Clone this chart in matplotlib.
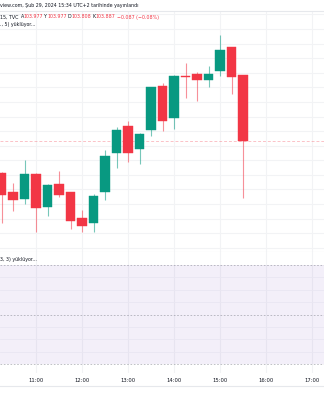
import numpy as np
import matplotlib
matplotlib.use("Agg")
import matplotlib.pyplot as plt
from matplotlib.lines import Line2D

# ---- data ----
times = [10.25 + 0.25 * i for i in range(22)]  # hours (15-min candles, 10:15 .. 15:30)
opens  = [103.843, 103.816, 103.807, 103.841, 103.796, 103.827, 103.816, 103.781, 103.774, 103.816, 103.870,
          103.907, 103.875, 103.902, 103.962, 103.918, 103.976, 103.978, 103.970, 103.982, 104.015, 103.977]
highs  = [103.844, 103.829, 103.860, 103.842, 103.827, 103.846, 103.817, 103.792, 103.814, 103.874, 103.905,
          103.914, 103.898, 103.961, 103.966, 103.977, 103.994, 103.981, 103.990, 104.032, 104.016, 103.977]
lows   = [103.774, 103.790, 103.800, 103.761, 103.784, 103.810, 103.766, 103.761, 103.761, 103.805, 103.850,
          103.857, 103.855, 103.894, 103.900, 103.903, 103.946, 103.941, 103.960, 103.976, 103.951, 103.808]
closes = [103.812, 103.805, 103.841, 103.794, 103.826, 103.813, 103.777, 103.770, 103.811, 103.866, 103.902,
          103.870, 103.896, 103.960, 103.914, 103.976, 103.974, 103.970, 103.979, 104.011, 103.974, 103.887]
hour_ticks = [11, 12, 13, 14, 15, 16, 17]
hour_labels = ["11:00", "12:00", "13:00", "14:00", "15:00", "16:00", "17:00"]
osc_levels = [70, 50, 30]

UP = "#089981"
DOWN = "#F23645"
GRID = "#F2F3F5"
TXT = "#131722"

W, H = 324, 400
fig = plt.figure(figsize=(W / 100, H / 100), dpi=100)
fig.patch.set_facecolor("white")

def fy(py):
    return 1 - py / H

xlim = (11 - 36 / 46, 11 + 288 / 46)

# main pane: pixel rows 11..252
ax = fig.add_axes([0, fy(252), 1, (252 - 11) / H])
ax.set_xlim(*xlim)
ax.set_ylim(103.7342, 104.0648)
for s in ax.spines.values():
    s.set_visible(False)
ax.spines["top"].set_visible(True)
ax.spines["bottom"].set_visible(True)
ax.spines["top"].set_color("#E6E8EC")
ax.spines["bottom"].set_color("#E0E3EB")
ax.spines["top"].set_linewidth(0.8)
ax.spines["bottom"].set_linewidth(0.8)
ax.set_xticks([]); ax.set_yticks([])
for p in np.arange(103.72, 104.08, 0.02):
    ax.axhline(p, color=GRID, lw=0.8, zorder=0)
for h in hour_ticks:
    ax.axvline(h, color=GRID, lw=0.8, zorder=0)

ax.axhline(closes[-1], color=DOWN, alpha=0.3, lw=0.7, ls=(0, (3, 2)), zorder=1)

for t, o, hi, lo, c in zip(times, opens, highs, lows, closes):
    col = UP if c >= o else DOWN
    ax.vlines(t, lo, hi, color=col, lw=0.8, alpha=0.55, zorder=2)
    bot = min(o, c)
    ht = max(abs(c - o), 0.0012)
    ax.bar(t, ht, bottom=bot, width=0.2, color=col, edgecolor=col, lw=0.3, zorder=3)

# lower (oscillator) pane: pixel rows 252..373
ax2 = fig.add_axes([0, fy(373), 1, (373 - 252) / H])
ax2.set_xlim(*xlim)
ax2.set_ylim(26.5, 75.24)
for s in ax2.spines.values():
    s.set_visible(False)
ax2.set_yticks([])
for h in hour_ticks:
    ax2.axvline(h, color=GRID, lw=0.8, zorder=0)
ax2.axhspan(osc_levels[2], osc_levels[0], color="#7E57C2", alpha=0.09, lw=0, zorder=1)
for v in [65, 60, 55, 45, 40, 35]:
    ax2.axhline(v, color="#E9E6F2", lw=0.6, zorder=1.5)
for v in osc_levels:
    ax2.axhline(v, color="#787B86", alpha=0.55, lw=0.6, ls=(0, (2, 2)), zorder=2)
ax2.set_xticks(hour_ticks)
ax2.set_xticklabels(hour_labels, fontsize=3.8, color=TXT)
ax2.tick_params(axis="x", length=0, pad=3.6)

fig.add_artist(Line2D([0, 1], [fy(386), fy(386)], color="#E6E8EC", lw=0.8, transform=fig.transFigure))

# header texts
FS = 3.4
fig.text(0, fy(6), "view.com, Şub 29, 2024 15:34 UTC+2 tarihinde yayınlandı", fontsize=FS, color=TXT, va="center", ha="left")
fig.text(0, fy(17), "15, TVC", fontsize=FS, color=TXT, va="center", ha="left")
for lab, val, x in [("A", "103.977", 20.5), ("Y", "103.977", 44), ("D", "103.808", 68), ("K", "103.887", 92.5)]:
    fig.text(x / W, fy(17), lab, fontsize=FS, color=TXT, va="center", ha="left")
    fig.text((x + 3.4) / W, fy(17), val, fontsize=FS, color=DOWN, va="center", ha="left")
fig.text(117 / W, fy(17), "−0.087 (−0.08%)", fontsize=FS, color=DOWN, va="center", ha="left")
fig.text(0, fy(24.5), "., 5) yüklüyor...", fontsize=FS, color=TXT, va="center", ha="left")
fig.text(0, fy(259), "3, 3) yüklüyor...", fontsize=FS, color=TXT, va="center", ha="left")

fig.savefig("out.png", dpi=100, facecolor="white")
